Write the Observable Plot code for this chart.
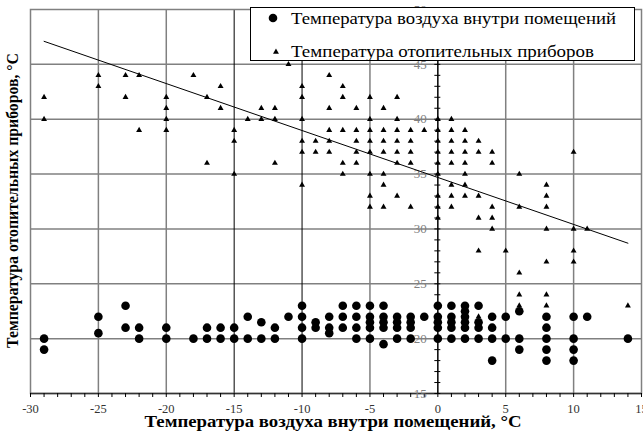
<!DOCTYPE html>
<html>
<head>
<meta charset="utf-8">
<script src="https://cdn.jsdelivr.net/npm/d3@7"></script>
<script src="https://cdn.jsdelivr.net/npm/@observablehq/plot@0.6"></script>
<style>
  body { margin: 0; background: #fff; }
  #wrap { position: relative; width: 643px; height: 435px; overflow: hidden; }
  #legend { position: absolute; left: 250px; top: 7px; }
</style>
</head>
<body>
<div id="wrap"></div>
<script>
// ---- data ----
const airX = [-29,-29,-25,-25,-23,-23,-22,-22,-20,-20,-18,-17,-17,-16,-16,-15,-15,-14,-14,-13,-13,-12,-12,-11,
  -10,-10,-10,-10,-9,-9,-8,-8,-8,-7,-7,-7,-6,-6,-6,-6,-5,-5,-5,-5,-5,-4,-4,-4,-4,-4,-3,-3,-3,-3,-2,-2,-2,-2,-1,
  0,0,0,0,0,1,1,1,1,1,2,2,2,2,2,2,3,3,3,3,4,4,4,4,5,5,6,6,6,8,8,8,8,8,10,10,10,10,11,14];
const airY = [20,19,22,20.5,23,21,21,20,21,20,20,21,20,21,20,21,20,22,20,21.5,20,21,20,22,
  23,22,21,20,21.5,21,22,21,20.5,23,22,21,23,22,21,20,23,22,21.5,21,20,23,22,21.5,21,19.5,22,21.5,21,20,22,21.5,21,20,22,
  23,22,21.5,21,20,23,22,21.5,21,20,23,22.5,22,21.5,21,20,23,21.5,21,20,22,21,20,18,22,20,22.5,20,19,22,21,20,19,18,22,20,19,18,22,20];

const radX = [-29,-29,-25,-25,-23,-23,-22,-22,-20,-20,-20,-20,-18,-17,-17,-16,-16,-15,-15,-15,-14,-13,-13,-12,-12,-12,-11,
  -10,-10,-10,-10,-10,-10,-9,-9,-8,-8,-8,-8,-8,-7,-7,-7,-7,-7,-6,-6,-6,-6,-6,
  -5,-5,-5,-5,-5,-5,-5,-5,-4,-4,-4,-4,-4,-4,-4,-3,-3,-3,-3,-3,-3,-3,-2,-2,-2,-2,-2,-1,
  0,0,0,0,0,0,0,0,0,1,1,1,1,1,1,1,1,2,2,2,2,2,2,2,3,3,3,3,3,3,4,4,4,4,4,5,6,6,6,6,6,
  8,8,8,8,8,8,8,10,10,10,10,11,14];
const radY = [42,40,44,43,44,42,44,39,42,41,40,39,44,42,36,43,41,39,38,35,40,41,40,41,40,36,45,
  43,42,40,38,37,34,38,37,44,41,39,38,37,43,42,39,36,35,41,39,38,37,36,
  42,40,39,38,37,35,33,32,41,39,38,37,35,34,32,42,40,39,38,37,36,33,39,38,37,36,32,39,
  40,39,38,37,36,35,33,32,31,40,39,38,37,36,34,33,32,39,38,37,36,35,34,33,38,37,33,31,28,22,37,36,32,31,30,28,35,32,26,24,23,
  34,33,32,30,27,24,23,37,30,28,27,30,23];

const trendX = [-29, 14];
const trendY = [47.1, 28.7];

const xTicks = [-30,-25,-20,-15,-10,-5,0,5,10,15];
const yTicks = [15,20,25,30,35,40,45,50];
const xMinor = d3.range(-30, 16);
const yMinor = d3.range(15, 51);
const gridXGray = [-25,-20,-5,5,10];
const gridXBlack = [-15,-10];
const gridY = [20,25,30,35,40,45];

const legendLabels = ["Температура воздуха внутри помещений", "Температура отопительных приборов"];
const xLabel = "Температура воздуха внутри помещений, °С";
const yLabel = "Температура отопительных приборов, °С";

const air = airX.map((x, i) => ({x, y: airY[i]}));
const rad = radX.map((x, i) => ({x, y: radY[i]}));
const trend = trendX.map((x, i) => ({x, y: trendY[i]}));

const chart = Plot.plot({
  width: 643, height: 435,
  marginLeft: 30, marginRight: 2, marginTop: 9, marginBottom: 42,
  style: {fontFamily: "'Liberation Serif', serif", fontSize: "12.5px", color: "#333", background: "#fff"},
  x: {domain: [-30, 15], ticks: xTicks, tickSize: 0, tickPadding: 11, label: null, tickFormat: d => String(d)},
  y: {domain: [15, 50], axis: null},
  marks: [
    Plot.ruleY(gridY, {stroke: "#808080", strokeWidth: 1.5}),
    Plot.ruleX(gridXGray, {stroke: "#808080", strokeWidth: 1.5}),
    Plot.ruleX(gridXBlack, {stroke: "#000", strokeWidth: 1}),
    Plot.frame({stroke: "#808080", strokeWidth: 1.5}),
    Plot.ruleY([15], {stroke: "#333", strokeWidth: 1.5}),
    Plot.ruleX(xMinor, {x: d => d, y1: 15, y2: 15, insetBottom: -4, stroke: "#000"}),
    Plot.ruleY(yMinor, {y: d => d, x1: 0, x2: 0, insetLeft: -3, insetRight: -3, stroke: "#000"}),
    Plot.ruleX([0], {stroke: "#000", strokeWidth: 1.5}),
    Plot.text(yTicks, {x: 0, y: d => d, text: d => String(d), textAnchor: "end", dx: -11, fill: "#808080", fontSize: 13}),
    Plot.dot(air, {x: "x", y: "y", r: 4.3, fill: "#000", stroke: null}),
    Plot.dot(rad, {x: "x", y: "y", symbol: "triangle", r: 2.2, fill: "#000", stroke: null}),
    Plot.line(trend, {x: "x", y: "y", stroke: "#000", strokeWidth: 1}),
    Plot.text([xLabel], {frameAnchor: "bottom", textAnchor: "middle", text: d => d, dx: -3, dy: 33, fontWeight: "bold", fontSize: 16, fill: "#000"}),
    Plot.text([yLabel], {frameAnchor: "left", textAnchor: "middle", text: d => d, rotate: -90, dx: -18, dy: -1, fontWeight: "bold", fontSize: 16, fill: "#000"})
  ]
});

const wrap = document.getElementById("wrap");
wrap.appendChild(chart);

// stretch axis titles to the reference's text lengths
const sel = d3.select(chart);
sel.selectAll("text").filter(function() { return this.textContent === xLabel; })
  .attr("textLength", 377).attr("lengthAdjust", "spacingAndGlyphs");
sel.selectAll("text").filter(function() { return this.textContent === yLabel; })
  .attr("textLength", 295).attr("lengthAdjust", "spacingAndGlyphs");

// legend overlay (boxed, top-right)
const lg = d3.select(wrap).append("svg").attr("id", "legend")
  .attr("width", 386).attr("height", 55)
  .style("font-family", "'Liberation Serif', serif");
lg.append("rect").attr("x", 0.5).attr("y", 0.5).attr("width", 384).attr("height", 53)
  .attr("fill", "#fff").attr("stroke", "#000").attr("stroke-width", 1);
lg.append("circle").attr("cx", 23).attr("cy", 11).attr("r", 4.3).attr("fill", "#000");
lg.append("path").attr("d", d3.symbol(d3.symbolTriangle, Math.PI * 2.2 * 2.2)()).attr("transform", "translate(26,45)").attr("fill", "#000");
const lens = [325, 303];
const bases = [17, 50];
legendLabels.forEach((t, i) => {
  lg.append("text").attr("x", 41).attr("y", bases[i]).attr("font-size", 17).attr("fill", "#000")
    .attr("textLength", lens[i]).attr("lengthAdjust", "spacingAndGlyphs").text(t);
});
</script>
</body>
</html>
